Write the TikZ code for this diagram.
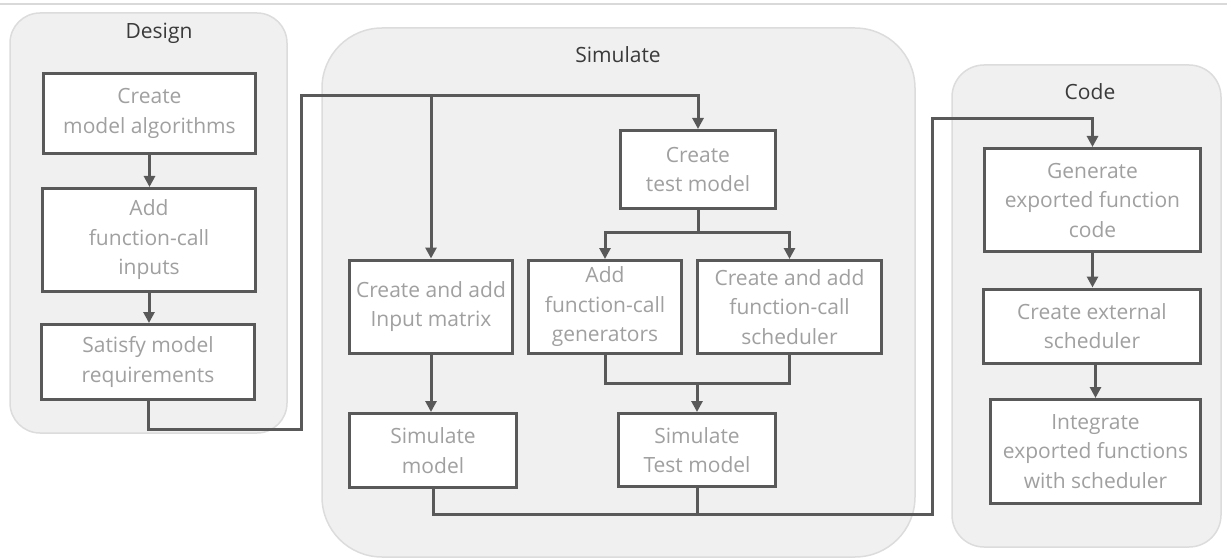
\documentclass[tikz,border=0pt]{standalone}
\usepackage{fontspec}
\setmainfont{Open Sans}
\usetikzlibrary{arrows.meta}
\definecolor{panelfill}{HTML}{F0F0F0}
\definecolor{paneldraw}{HTML}{DCDCDC}
\definecolor{boxdraw}{HTML}{595959}
\definecolor{boxtext}{HTML}{A0A0A0}
\definecolor{titletext}{HTML}{3A3A3A}
\definecolor{topline}{HTML}{D9D9D9}
\tikzset{
  panel/.style={fill=panelfill, draw=paneldraw, line width=1.5pt},
  stepbox/.style={draw=boxdraw, fill=white, line width=3pt, align=center,
    inner sep=0pt, text=boxtext, font=\fontsize{21}{29.5}\selectfont},
  paneltitle/.style={text=titletext, font=\fontsize{21}{25}\selectfont, inner sep=0pt},
  conn/.style={draw=boxdraw, line width=3pt},
  arr/.style={conn, -{Triangle[length=11pt,width=11pt]}},
}
\begin{document}
\begin{tikzpicture}[x=1pt,y=-1pt]
\useasboundingbox (0,0) rectangle (1227,559);
\draw[topline, line width=1.5pt] (0,4) -- (1227,4);
% panels
\draw[panel, rounded corners=30pt] (10,13) rectangle (287,433);
\draw[panel, rounded corners=60pt] (322,28) rectangle (915,557);
\draw[panel, rounded corners=32pt] (952,65) rectangle (1221,547);
\node[paneltitle] (tdes) at (159,33) {Design};
\node[paneltitle] (tsim) at (618,55) {Simulate};
\node[paneltitle] (tcod) at (1090,92) {Code};
% boxes
\node[stepbox, minimum width=212pt, minimum height=80pt] (cma) at (149.5,113.5) {Create\\model algorithms};
\node[stepbox, minimum width=213pt, minimum height=103pt] (afi) at (149,240) {Add\\function-call\\inputs};
\node[stepbox, minimum width=213pt, minimum height=75pt] (smr) at (148,362) {Satisfy model\\requirements};
\node[stepbox, minimum width=155pt, minimum height=78pt] (ctm) at (698,169.5) {Create\\test model};
\node[stepbox, minimum width=163pt, minimum height=93pt] (cim) at (431,306.5) {Create and add\\Input matrix};
\node[stepbox, minimum width=153pt, minimum height=93pt] (afg) at (605,307) {Add\\function-call\\generators};
\node[stepbox, minimum width=184pt, minimum height=93pt] (cas) at (789.5,307) {Create and add\\function-call\\scheduler};
\node[stepbox, minimum width=167pt, minimum height=74pt] (sm) at (433,450.5) {Simulate\\model};
\node[stepbox, minimum width=157pt, minimum height=73pt] (stm) at (697,450) {Simulate\\Test model};
\node[stepbox, minimum width=216pt, minimum height=103pt] (gef) at (1092.5,200) {Generate\\exported function\\code};
\node[stepbox, minimum width=217pt, minimum height=74pt] (ces) at (1092,326) {Create external\\scheduler};
\node[stepbox, minimum width=210pt, minimum height=104pt] (ief) at (1095.5,451.5) {Integrate\\exported functions\\with scheduler};
% connector helper points
\coordinate (d1) at (301,429);
\coordinate (t1) at (301,96);
\coordinate (br) at (697,232);
\coordinate (mg) at (697,383);
\coordinate (b2) at (932,514);
\coordinate (t2) at (932,119);
% connectors
\draw[arr] (cma.south) -- (cma.south |- afi.north);
\draw[arr] (afi.south) -- (afi.south |- smr.north);
\draw[arr] (smr.south) |- (d1) -- (t1) -| (ctm.north);
\draw[arr] (cim.north |- t1) -- (cim.north);
\draw[conn] (ctm.south) -- (ctm.south |- br);
\draw[arr] (ctm.south |- br) -| (afg.north);
\draw[arr] (ctm.south |- br) -| (cas.north);
\draw[conn] (afg.south) |- (mg) -| (cas.south);
\draw[arr] (mg) -- (stm.north);
\draw[arr] (cim.south) -- (cim.south |- sm.north);
\draw[arr] (sm.south) |- (b2) -- (t2) -| (gef.north);
\draw[conn] (stm.south) -- (stm.south |- b2);
\draw[arr] (gef.south) -- (gef.south |- ces.north);
\draw[arr] (ief.north |- ces.south) -- (ief.north);
\end{tikzpicture}
\end{document}
